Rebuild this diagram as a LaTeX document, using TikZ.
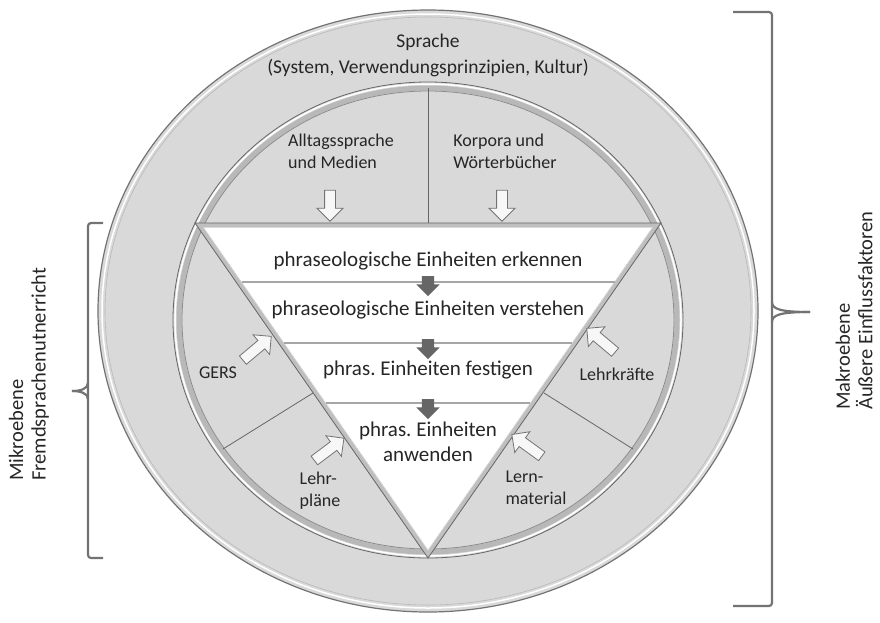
\documentclass[tikz,border=0pt]{standalone}
\usepackage{fontspec}
\setmainfont{Carlito}
\frenchspacing
\usetikzlibrary{shapes.arrows}

\begin{document}
\begin{tikzpicture}[x=1pt,y=-1pt,
  ring/.style={fill=black!15,draw=black!55,line width=1.2pt},
  divider/.style={draw=black!60,line width=0.8pt},
  band/.style={draw=black!35,line width=1.3pt},
  smalltext/.style={text=black!85,font=\fontsize{18}{22}\selectfont,align=left,inner sep=0pt},
  steptext/.style={text=black!85,font=\fontsize{21}{25}\selectfont,align=center,inner sep=0pt},
  sidetext/.style={text=black!85,font=\fontsize{20.5}{22.5}\selectfont,align=left,inner sep=0pt,rotate=90,anchor=west},
  whitearrow/.style={single arrow,draw=black!55,fill=black!3,line width=0.8pt,inner sep=0pt,inner ysep=5pt,single arrow head extend=7.5pt,minimum height=31pt},
  darkarrow/.style={single arrow,fill=black!60,inner sep=0pt,inner ysep=6pt,single arrow head extend=5.5pt,minimum height=20pt,rotate=-90},
  bracket/.style={draw=black!55,line width=2.2pt,line join=round}]
\useasboundingbox (0,0) rectangle (880,622);

\draw[ring] (428,311) ellipse [x radius=330, y radius=301];
\draw[white,line width=1.5pt] (428,311) ellipse [x radius=326, y radius=297];
\draw[black!28,line width=0.6pt] (428,311) ellipse [x radius=323, y radius=294];

\fill[black!15] (428,320) ellipse [x radius=255, y radius=238];
\draw[black!28,line width=5pt] (428,320) ellipse [x radius=249, y radius=232];
\draw[white,line width=1.5pt] (428,320) ellipse [x radius=253, y radius=236];
\draw[black!60,line width=0.8pt] (428,320) ellipse [x radius=255, y radius=238];
\draw[black!45,line width=0.8pt] (428,320) ellipse [x radius=246, y radius=229];

\coordinate (topdiv) at (428,88);
\coordinate (tm) at (428,223);
\coordinate (ll) at (313,393);
\coordinate (lr) at (544,393);
\coordinate (cl) at (223,449);
\coordinate (cr) at (633,449);
\draw[divider] (topdiv) to (tm);
\draw[divider] (ll) to (cl);
\draw[divider] (lr) to (cr);

\coordinate (tl) at (195,223);
\coordinate (tr) at (661,223);
\coordinate (bt) at (428,558);
\coordinate (itl) at (203.6,227.5);
\coordinate (itr) at (652.4,227.5);
\coordinate (ibt) at (428,550.1);
\filldraw[fill=black!25,draw=black!60,line width=0.8pt] (tl) to (tr) to (bt) to cycle;
\filldraw[fill=white,draw=black!15,line width=0.6pt] (itl) to (itr) to (ibt) to cycle;

\draw[band] (intersection of itl--ibt and 0,282--1,282) to (intersection of itr--ibt and 0,282--1,282);
\draw[band] (intersection of itl--ibt and 0,343--1,343) to (intersection of itr--ibt and 0,343--1,343);
\draw[band] (intersection of itl--ibt and 0,403--1,403) to (intersection of itr--ibt and 0,403--1,403);

\node[steptext,font=\fontsize{19.5}{26}\selectfont] (sprache) at (428,55) {Sprache\\(System, Verwendungsprinzipien, Kultur)};
\node[steptext] (erkennen) at (428,261) {phraseologische Einheiten erkennen};
\node[steptext] (verstehen) at (428,310) {phraseologische Einheiten verstehen};
\node[steptext] (festigen) at (428,370) {phras. Einheiten festigen};
\node[steptext] (anwenden) at (428,442) {phras. Einheiten\\anwenden};

\node[darkarrow] (pfeil1) at (428,283) {};
\node[darkarrow] (pfeil2) at (428,346) {};
\node[darkarrow] (pfeil3) at (428,406) {};

\node[smalltext] (alltag) at (341,151) {Alltagssprache\\und Medien};
\node[smalltext] (korpora) at (505,151) {Korpora und\\Wörterbücher};
\node[whitearrow,rotate=-90] (alltagpfeil) at (330,203) {};
\node[whitearrow,rotate=-90] (korporapfeil) at (502,203) {};

\node[smalltext] (gers) at (218,373) {GERS};
\node[whitearrow,rotate=40,minimum height=37pt] (gerspfeil) at (255,350) {};
\node[smalltext] (lehrkraefte) at (617,374) {Lehrkräfte};
\node[whitearrow,rotate=140,minimum height=37pt] (lehrkraeftepfeil) at (603,342) {};
\node[smalltext] (lehrplaene) at (320,491) {Lehr-\\pläne};
\node[whitearrow,rotate=37,minimum height=37pt] (lehrplaenepfeil) at (327,451) {};
\node[smalltext] (lernmaterial) at (536,488) {Lern-\\material};
\node[whitearrow,rotate=144,minimum height=37pt] (lernmaterialpfeil) at (529,447) {};

\draw[bracket,rounded corners=3pt] (103,223) to (88,223) to (88,558) to (103,558);
\draw[bracket] (88,383) .. controls (88,389) and (80,391) .. (72,391);
\draw[bracket] (88,399) .. controls (88,393) and (80,391) .. (72,391);
\draw[bracket,rounded corners=3pt] (733,12) to (772,12) to (772,606) to (733,606);
\draw[bracket] (772,302) .. controls (772,309) and (780,312) .. (810,312);
\draw[bracket] (772,322) .. controls (772,315) and (780,312) .. (810,312);

\node[sidetext] (mikro) at (29,481) {Mikroebene\\Fremdsprachenutnerricht};
\node[sidetext] (makro) at (854,410) {Makroebene\\Äußere Einflussfaktoren};
\end{tikzpicture}
\end{document}
